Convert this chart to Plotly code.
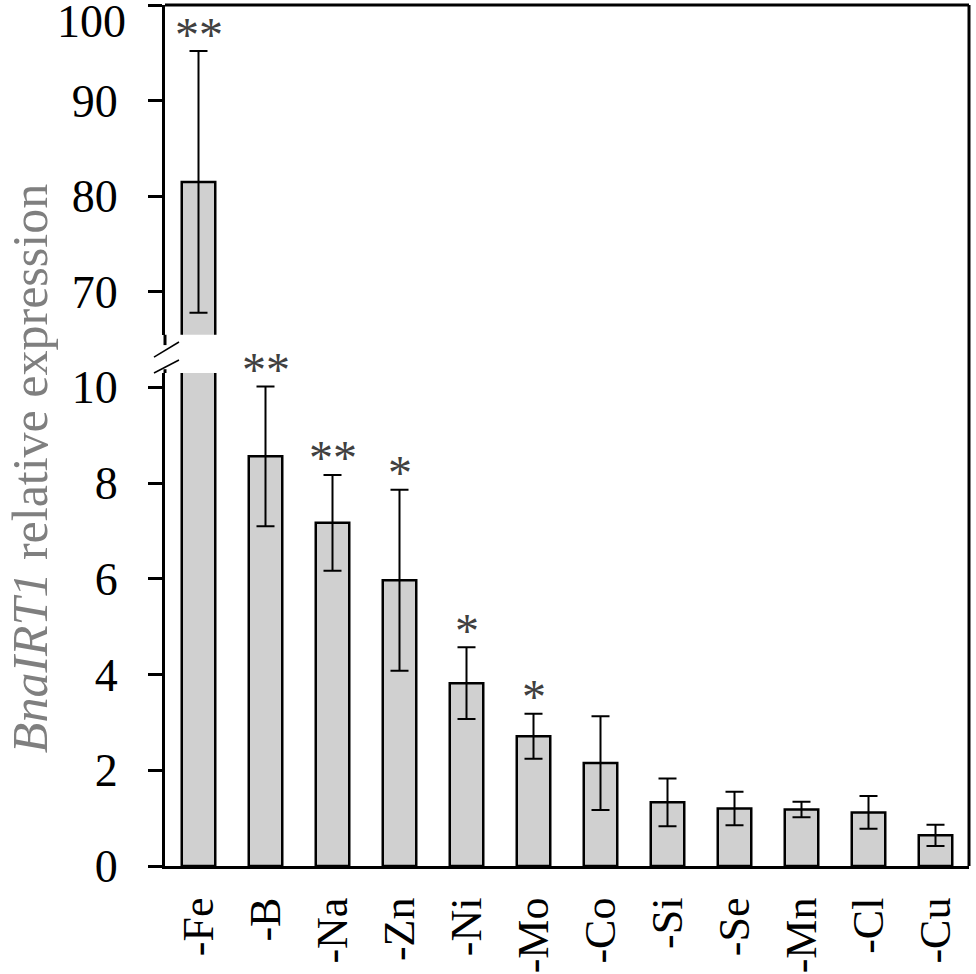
import plotly.graph_objects as go

# Relative expression of BnaIRT1 under nutrient deficiency
elements = ["-Fe", "-B", "-Na", "-Zn", "-Ni", "-Mo", "-Co", "-Si", "-Se", "-Mn", "-Cl", "-Cu"]
expression = [81.5, 8.56, 7.17, 5.97, 3.82, 2.71, 2.15, 1.33, 1.20, 1.18, 1.12, 0.64]
error_sd = [13.7, 1.46, 1.00, 1.89, 0.75, 0.47, 0.98, 0.50, 0.35, 0.16, 0.34, 0.22]
significance = ["**", "**", "**", "*", "*", "*", "", "", "", "", "", ""]

lower_ticks = [0, 2, 4, 6, 8, 10]
upper_ticks = [70, 80, 90, 100]
lower_range = [0, 10.3]
upper_range = [65.5, 100.02]

FONT = "Liberation Serif"
BAR_FILL = "#d0d0d0"
TICK_STANDOFF = 21
TICK_LEN = 14
LOWER_DOMAIN = [0, 0.5726]
UPPER_DOMAIN = [0.617, 1]

# bars tall enough to show up above the axis break
upper_idx = [i for i, v in enumerate(expression) if v > lower_range[1]]

fig = go.Figure()

bar_style = dict(
    marker=dict(color=BAR_FILL, line=dict(color="black", width=2.5)),
    width=0.5,
    showlegend=False,
)
err_style = dict(type="data", color="black", thickness=2, width=9)

fig.add_trace(go.Bar(
    x=elements, y=expression,
    error_y=dict(array=error_sd, **err_style),
    xaxis="x", yaxis="y", **bar_style,
))
fig.add_trace(go.Bar(
    x=[elements[i] for i in upper_idx], y=[expression[i] for i in upper_idx],
    error_y=dict(array=[error_sd[i] for i in upper_idx], **err_style),
    xaxis="x", yaxis="y2", **bar_style,
))

# significance stars above error bars
for i, s in enumerate(significance):
    if not s:
        continue
    fig.add_annotation(
        x=elements[i], y=expression[i] + error_sd[i],
        xref="x", yref="y2" if i in upper_idx else "y",
        text=s, showarrow=False, yanchor="middle", yshift=17,
        font=dict(family=FONT, size=48, color="#404040"),
    )

axis_common = dict(
    showline=True, linecolor="black", linewidth=3,
    ticks="outside", ticklen=TICK_LEN, tickwidth=2.5, tickcolor="black",
    showgrid=False, zeroline=False, automargin=False,
    tickfont=dict(family=FONT, size=46, color="black"),
    ticklabelstandoff=TICK_STANDOFF,
)

# top tick label sits at the edge of the page, so it is nudged down like in the original
upper_text = [str(v) if v != upper_ticks[-1] else "" for v in upper_ticks]

fig.update_layout(
    width=976, height=974,
    margin=dict(l=165, r=7, t=5, b=108, autoexpand=False),
    paper_bgcolor="white", plot_bgcolor="white",
    barmode="overlay",
    xaxis=dict(
        categoryorder="array", categoryarray=elements,
        showline=True, linecolor="black", linewidth=3,
        ticks="", showgrid=False, tickangle=-90, automargin=False,
        tickfont=dict(family=FONT, size=44, color="black"),
        ticklabelstandoff=11,
        anchor="y",
    ),
    yaxis=dict(domain=LOWER_DOMAIN, range=lower_range, tickvals=lower_ticks, anchor="x", **axis_common),
    yaxis2=dict(domain=UPPER_DOMAIN, range=upper_range, tickvals=upper_ticks, ticktext=upper_text,
                anchor="x", **axis_common),
)

fig.add_annotation(
    xref="paper", yref="y2", x=0, y=upper_ticks[-1],
    text=str(upper_ticks[-1]), showarrow=False, xanchor="right", yanchor="middle",
    xshift=-(TICK_LEN + TICK_STANDOFF + 2), yshift=-16,
    font=dict(family=FONT, size=46, color="black"),
)

# frame: top and right border
fig.add_shape(type="line", xref="paper", yref="paper", x0=0, x1=1, y0=1, y1=1,
              line=dict(color="black", width=3))
fig.add_shape(type="line", xref="paper", yref="paper", x0=1, x1=1, y0=0, y1=1,
              line=dict(color="black", width=3))

# left axis runs a little into the break gap, then the two slashes
fig.add_shape(type="line", xref="paper", yref="paper", x0=0, x1=0, y0=0.605, y1=UPPER_DOMAIN[0],
              line=dict(color="black", width=3))
fig.add_shape(type="line", xref="paper", yref="paper", x0=0, x1=0, y0=LOWER_DOMAIN[1], y1=0.577,
              line=dict(color="black", width=3))
for y0, y1 in [(0.591, 0.6086), (0.5726, 0.5877)]:
    fig.add_shape(type="line", xref="paper", yref="paper", x0=-0.0137, x1=0.0174, y0=y0, y1=y1,
                  line=dict(color="black", width=1.5))

# y title with italic gene name
fig.add_annotation(
    xref="paper", yref="paper", x=-0.168, y=0.462,
    text="<i>BnaIRT1</i> relative expression", textangle=-90,
    showarrow=False, xanchor="center", yanchor="middle",
    font=dict(family=FONT, size=50, color="#7f7f7f"),
)

# page body has a default margin; drop it so the figure fills the window
fig.write_html("out.html", config={"displayModeBar": False},
               post_script="document.body.style.margin = '0';")
